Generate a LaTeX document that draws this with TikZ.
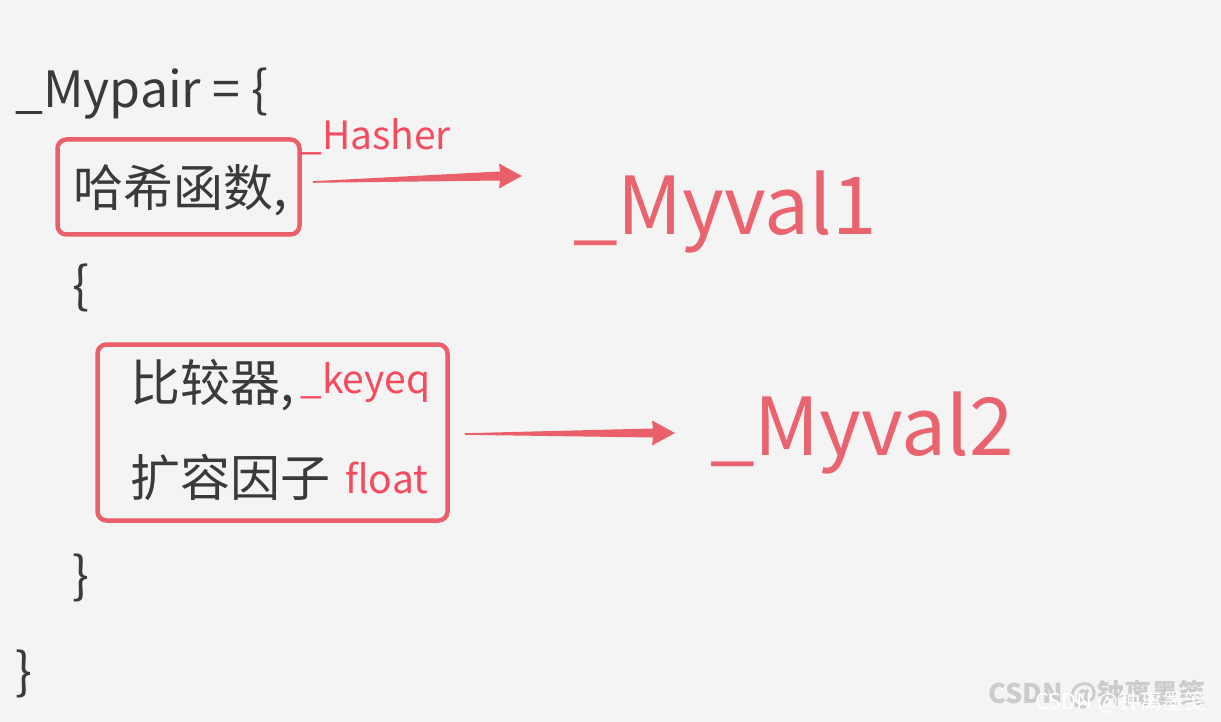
\documentclass[tikz,border=0pt]{standalone}
\usepackage{fontspec}
\setmainfont{Noto Sans CJK SC}
\usepackage{tikz}
\usetikzlibrary{calc}
\definecolor{PageGray}{HTML}{F4F4F4}
\definecolor{CodeGray}{HTML}{3A3A3A}
\definecolor{BoxRed}{HTML}{E9606B}
\definecolor{TagRed}{HTML}{F44B5F}
\definecolor{ValRed}{HTML}{EA6470}

\begin{document}
\begin{tikzpicture}[x=1pt,y=-1pt,
 code/.style={font=\fontsize{50}{60}\selectfont,text=CodeGray,inner sep=0,anchor=base west},
 tag/.style={font=\fontsize{39}{46}\selectfont,text=TagRed,inner sep=0,anchor=base west},
 val/.style={font=\fontsize{80}{96}\selectfont,text=ValRed,inner sep=0,anchor=base west},
 redbox/.style={draw=BoxRed,line width=4.5pt,rounded corners=9pt,inner sep=0},
 arr/.style={fill=BoxRed},
 mark/.style={font={\fontsize{#1}{#1}\selectfont},inner sep=0,anchor=base west}]
\useasboundingbox (0,0) rectangle (1221,722);
\fill[PageGray] (0,0) rectangle (1221,722);
% code lines
\node[code] (pair) at (15,108) {\_Mypair = \{};
\node[redbox,minimum width=242pt,minimum height=95pt] (hashbox) at (178.5,187) {};
\node[code] (hash) at (73,207) {哈希函数,};
\node[tag] (hasher) at (300,150) {\_Hasher};
\node[code] (lb) at (72,303) {\{};
\node[redbox,minimum width=350pt,minimum height=176pt] (cmpbox) at (272.5,432.5) {};
\node[code] (cmp) at (130,401) {比较器,};
\node[tag] (keyeq) at (300,393) {\_keyeq};
\node[code] (grow) at (130,496) {扩容因子};
\node[tag] (flt) at (345,493) {float};
\node[code] (rb) at (72,593) {\}};
\node[code] (end) at (15,689) {\}};
% targets
\node[val] (val1) at (573,235) {\_Myval1};
\node[val] (val2) at (710,455) {\_Myval2};
% arrows
\path (hashbox.east) ++(11,-5) coordinate (s1);
\path (val1.base west) ++(-51,-59) coordinate (e1);
\path (cmpbox.east) ++(15,1.5) coordinate (s2);
\path (val2.base west) ++(-35,-22) coordinate (e2);
\fill[arr] ($(s1)+(0,-0.8)$) -- ($(e1)+(-22,-4.5)$) -- ($(e1)+(-23,-12.5)$) -- (e1)
  -- ($(e1)+(-23,12.5)$) -- ($(e1)+(-22,4.5)$) -- ($(s1)+(0,0.8)$) -- cycle;
\fill[arr] ($(s2)+(0,-0.8)$) -- ($(e2)+(-22,-4.5)$) -- ($(e2)+(-23,-12.5)$) -- (e2)
  -- ($(e2)+(-23,12.5)$) -- ($(e2)+(-22,4.5)$) -- ($(s2)+(0,0.8)$) -- cycle;
% watermark
\node[mark=27,text=black!20] (wm) at (988,703) {\bfseries CSDN @钟离墨笺};
\node[mark=22,text=white] (wmt) at (1035,709) {CSDN @钟离墨笺};
\end{tikzpicture}
\end{document}
